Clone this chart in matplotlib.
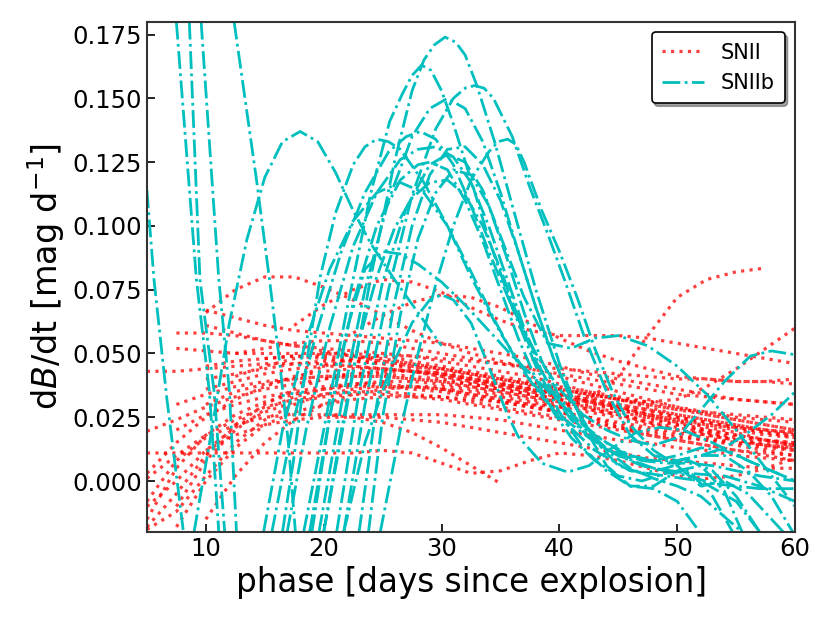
import numpy as np
import matplotlib
matplotlib.use('Agg')
import matplotlib.pyplot as plt

nan = np.nan

# common phase grid for the SNII curves (days since explosion)
phase_ii = [5, 7.5, 10, 12.5, 15, 17.5, 20, 22.5, 25, 27.5, 30, 32.5, 35, 37.5,
            40, 42.5, 45, 47.5, 50, 52.5, 55, 57.5, 60]

# SNII dB/dt curves (mag/day), nan = no data
snii = [
    [nan, nan, 0.066, 0.075, 0.080, 0.080, 0.076, 0.071, 0.065, 0.059, 0.054, 0.050, 0.047, 0.044, 0.041, 0.038, 0.035, 0.032, 0.029, 0.026, 0.024, 0.022, 0.020],
    [nan, nan, nan, nan, nan, 0.061, 0.069, 0.075, 0.079, 0.078, 0.074, 0.068, 0.063, 0.059, 0.057, 0.057, 0.057, 0.056, 0.054, 0.052, 0.050, 0.048, 0.046],
    [nan, nan, nan, nan, nan, nan, nan, 0.058, 0.065, 0.070, 0.073, 0.072, 0.068, 0.062, 0.056, 0.051, 0.047, 0.044, 0.041, 0.040, 0.039, 0.039, 0.040],
    [nan, nan, 0.067, 0.064, 0.061, 0.059, 0.058, 0.057, 0.056, 0.055, 0.054, 0.052, 0.050, 0.048, 0.045, 0.042, 0.040, 0.038, 0.036, 0.034, 0.032, 0.031, 0.030],
    [nan, nan, 0.061, 0.058, 0.055, 0.053, 0.052, 0.051, 0.050, 0.049, 0.047, 0.045, 0.043, 0.041, 0.038, 0.035, 0.032, 0.029, 0.026, 0.024, 0.022, 0.020, 0.019],
    [nan, 0.058, 0.058, 0.057, 0.055, 0.053, 0.051, 0.049, 0.047, 0.045, 0.043, 0.041, 0.039, 0.037, 0.035, 0.033, 0.030, 0.028, 0.025, 0.023, 0.021, 0.019, 0.018],
    [nan, 0.052, 0.051, 0.050, 0.050, 0.050, 0.050, 0.049, 0.048, 0.046, 0.044, 0.042, 0.040, 0.038, 0.036, 0.034, 0.032, 0.030, 0.028, 0.027, 0.026, 0.025, 0.024],
    [0.043, 0.043, 0.044, 0.045, 0.046, 0.046, 0.046, 0.045, 0.044, 0.043, 0.041, 0.039, 0.037, 0.035, 0.033, 0.031, 0.029, 0.027, 0.025, 0.023, 0.021, 0.019, 0.017],
    [nan, nan, 0.040, 0.042, 0.044, 0.046, 0.047, 0.047, 0.046, 0.045, 0.044, 0.042, 0.040, 0.038, 0.036, 0.034, 0.032, 0.030, 0.028, 0.026, 0.024, 0.022, 0.020],
    [nan, nan, 0.036, 0.039, 0.042, 0.044, 0.045, 0.045, 0.044, 0.043, 0.041, 0.039, 0.037, 0.035, 0.033, 0.031, 0.029, 0.026, 0.024, 0.021, 0.019, 0.016, 0.014],
    [0.003, 0.015, 0.025, 0.032, 0.037, 0.041, 0.043, 0.044, 0.044, 0.043, 0.042, 0.040, 0.038, 0.036, 0.034, 0.031, 0.028, 0.025, 0.022, 0.019, 0.016, 0.014, 0.012],
    [-0.015, 0.005, 0.018, 0.026, 0.031, 0.034, 0.036, 0.037, 0.037, 0.036, 0.035, 0.033, 0.031, 0.029, 0.027, 0.025, 0.023, 0.021, 0.019, 0.017, 0.015, 0.013, 0.012],
    [-0.008, 0.008, 0.017, 0.022, 0.025, 0.026, 0.026, 0.026, 0.026, 0.026, 0.026, 0.025, 0.024, 0.022, 0.020, 0.018, 0.016, 0.015, 0.013, 0.012, 0.010, 0.009, 0.008],
    [nan, -0.010, 0.008, 0.020, 0.028, 0.033, 0.036, 0.038, 0.039, 0.039, 0.038, 0.037, 0.035, 0.033, 0.031, 0.028, 0.026, 0.023, 0.021, 0.019, 0.017, 0.016, 0.015],
    [nan, -0.018, 0.000, 0.013, 0.022, 0.027, 0.030, 0.032, 0.033, 0.033, 0.033, 0.032, 0.031, 0.029, 0.027, 0.025, 0.022, 0.020, 0.018, 0.016, 0.014, 0.012, 0.010],
    [0.011, 0.011, 0.011, 0.011, 0.011, 0.011, 0.011, 0.011, 0.012, 0.011, 0.007, 0.003, 0.004, 0.008, 0.011, 0.010, 0.008, 0.005, 0.002, 0.001, 0.002, 0.005, 0.009],
    [nan, nan, nan, nan, nan, nan, 0.026, 0.025, 0.023, 0.019, 0.013, 0.006, -0.001, nan, nan, nan, nan, nan, nan, nan, nan, nan, nan],
    [nan, nan, nan, nan, nan, nan, nan, nan, nan, nan, 0.036, 0.034, 0.032, 0.030, 0.029, 0.032, 0.041, 0.057, 0.072, 0.079, 0.082, 0.0835, nan],
    [nan, nan, nan, nan, 0.048, 0.049, 0.049, 0.048, 0.047, 0.046, 0.044, 0.042, 0.040, 0.038, 0.036, 0.034, 0.032, 0.031, 0.032, 0.037, 0.044, 0.052, 0.060],
    [nan, nan, nan, nan, nan, 0.040, 0.045, 0.048, 0.049, 0.049, 0.048, 0.047, 0.046, 0.045, 0.044, 0.043, 0.042, 0.041, 0.040, 0.040, 0.039, 0.039, 0.038],
    [nan, nan, nan, 0.050, 0.052, 0.054, 0.055, 0.055, 0.054, 0.052, 0.050, 0.048, 0.046, 0.044, 0.042, 0.040, 0.038, 0.036, 0.034, 0.033, 0.032, 0.031, 0.030],
    [nan, nan, 0.030, 0.035, 0.038, 0.040, 0.041, 0.041, 0.041, 0.040, 0.039, 0.037, 0.035, 0.033, 0.031, 0.029, 0.027, 0.025, 0.023, 0.022, 0.021, 0.020, 0.019],
    [nan, 0.020, 0.026, 0.030, 0.033, 0.035, 0.037, 0.038, 0.038, 0.037, 0.036, 0.034, 0.032, 0.030, 0.027, 0.024, 0.021, 0.018, 0.016, 0.014, 0.012, 0.011, 0.010],
    [nan, nan, 0.012, 0.018, 0.022, 0.024, 0.025, 0.025, 0.025, 0.024, 0.023, 0.021, 0.019, 0.017, 0.015, 0.013, 0.011, 0.009, 0.008, 0.007, 0.006, 0.005, 0.005],
    [-0.018, -0.005, 0.010, 0.022, 0.030, 0.036, 0.040, 0.042, 0.043, 0.043, 0.042, 0.040, 0.038, 0.036, 0.034, 0.032, 0.029, 0.026, 0.023, 0.020, 0.018, 0.016, 0.014],
    [nan, nan, -0.015, 0.002, 0.015, 0.024, 0.030, 0.034, 0.036, 0.037, 0.037, 0.036, 0.034, 0.032, 0.030, 0.028, 0.026, 0.024, 0.022, 0.020, 0.018, 0.016, 0.015],
    [0.0195, 0.024, 0.029, 0.033, 0.036, 0.038, 0.040, 0.041, 0.041, 0.040, 0.039, 0.038, 0.036, 0.034, 0.032, 0.030, 0.028, 0.026, 0.024, 0.022, 0.020, 0.018, 0.017],
    [0.001, 0.010, 0.018, 0.024, 0.029, 0.032, 0.034, 0.035, 0.035, 0.034, 0.033, 0.031, 0.029, 0.027, 0.025, 0.023, 0.021, 0.019, 0.017, 0.016, 0.015, 0.014, 0.013],
    [-0.010, 0.000, 0.012, 0.021, 0.027, 0.031, 0.033, 0.034, 0.034, 0.033, 0.032, 0.030, 0.028, 0.026, 0.024, 0.022, 0.020, 0.018, 0.016, 0.014, 0.012, 0.010, 0.008],
    [nan, nan, nan, 0.041, 0.045, 0.048, 0.050, 0.050, 0.049, 0.047, 0.045, 0.043, 0.041, 0.039, 0.037, 0.035, 0.033, 0.031, 0.029, 0.027, 0.025, 0.024, 0.023],
    [-0.019, -0.012, 0.002, 0.015, 0.024, 0.030, 0.034, 0.036, 0.037, 0.037, 0.036, 0.035, 0.033, 0.031, 0.029, 0.027, 0.025, 0.022, 0.020, 0.018, 0.016, 0.014, 0.013],
    [nan, nan, 0.045, 0.047, 0.048, 0.049, 0.048, 0.047, 0.046, 0.044, 0.042, 0.040, 0.038, 0.036, 0.034, 0.032, 0.030, 0.028, 0.026, 0.024, 0.022, 0.020, 0.018],
    [nan, 0.030, 0.034, 0.037, 0.039, 0.040, 0.041, 0.042, 0.042, 0.041, 0.040, 0.038, 0.036, 0.034, 0.032, 0.029, 0.026, 0.023, 0.020, 0.018, 0.016, 0.015, 0.014],
]

# SNIIb curves: (phase, dB/dt) pairs
sniib_phase = [
    [5.0, 5.6, 6.7, 8.1],
    [7.5, 9.2, 10.3, 11.1],
    [8.6, 9.5, 10.7, 11.6],
    [9.6, 11.1, 12.0, 12.6],
    [12.4, 14.3, 15.4, 16.3, 17.0, 17.6],
    [9.0, 10.5, 12.0, 13.5, 15.0, 16.5, 18.0, 19.5, 21.0, 22.5, 24.0, 26.0, 28.0, 30.0],
    [20.0, 22.0, 24.0, 26.0, 27.5, 28.5, 29.4, 30.3, 31.2, 32.0, 33.0, 34.5, 36.0, 38.0, 40.0, 42.0, 44.0, 46.0, 48.0, 50.0, 52.0, 54.0, 55.5],
    [18.3, 20.0, 22.0, 24.0, 25.6, 26.7, 27.5, 28.3, 29.1, 30.0, 31.0, 32.5, 34.0, 36.0, 38.0, 40.0, 42.0, 44.0, 46.0, 48.0, 50.0, 51.9],
    [21.7, 23.5, 25.5, 27.5, 29.5, 31.0, 32.0, 32.8, 33.6, 34.4, 36.0, 37.5, 39.0, 40.5, 42.0, 44.0, 46.0, 48.0, 50.0, 52.0, 54.0, 56.0, 58.0, 59.8],
    [19.6, 21.5, 23.5, 25.5, 27.5, 29.0, 30.5, 32.0, 33.5, 35.0, 36.5, 38.0, 39.5, 41.0, 43.0, 45.0, 47.0, 49.0, 51.0, 53.0, 55.0, 57.0],
    [24.8, 26.5, 28.0, 29.5, 31.0, 32.5, 34.0, 34.8, 35.6, 36.3, 37.0, 38.5, 40.0, 41.5, 43.0, 44.5, 46.0, 48.0, 50.0, 52.0, 54.0, 56.0, 58.0, 59.0],
    [15.6, 17.5, 19.5, 21.5, 23.5, 25.5, 27.0, 28.2, 29.5, 31.0, 32.5, 34.0, 36.0, 38.0, 40.0, 42.0, 44.0, 46.0, 48.0, 50.0, 52.2, 54.0, 56.2, 58.0, 60.0],
    [16.5, 17.5, 18.5, 19.7, 21.0, 22.5, 23.5, 24.5, 25.5, 26.5, 28.5, 30.5, 32.5, 35.0, 37.5, 40.0, 43.0, 46.0, 49.0, 52.0, 55.0, 57.0],
    [16.9, 18.5, 20.5, 22.5, 24.5, 26.5, 28.0, 29.5, 31.0, 32.5, 34.0, 35.5, 37.0, 38.5, 40.0, 42.0, 44.0, 46.0, 48.0, 50.0, 52.0, 54.0, 56.0, 58.0, 60.0],
    [21.1, 23.0, 25.0, 27.0, 29.0, 30.5, 32.0, 33.5, 35.0, 37.0, 39.0, 41.0, 43.0, 45.0, 47.5, 50.0, 52.5, 55.0, 57.5, 60.0],
    [18.8, 20.5, 22.5, 24.5, 26.5, 28.0, 29.0, 30.5, 32.0, 33.5, 35.0, 36.5, 38.0, 39.5, 41.0, 43.0, 45.0, 47.0, 49.0, 51.0, 53.0, 54.7],
    [23.8, 25.0, 26.5, 28.0, 29.5, 31.0, 32.5, 34.0, 35.5, 37.0, 38.5, 40.0, 41.5, 43.0, 45.0, 47.0, 49.0, 51.0, 53.0, 55.0, 57.0, 60.0],
    [20.0, 21.5, 23.0, 24.5, 26.0, 27.5, 29.0, 30.5, 32.0, 33.5, 35.0, 36.5, 38.0, 39.5, 41.0, 43.0, 45.0, 47.0, 49.0, 51.0, 53.0, 55.0, 57.0, 60.0],
    [19.0, 20.5, 22.0, 23.5, 25.0, 26.5, 28.0, 30.0, 32.0, 34.0, 36.0, 38.0, 40.0, 42.0, 44.0, 46.0, 48.0, 50.0, 52.0, 54.0, 56.0, 58.0, 60.0],
    [21.7, 23.5, 25.5, 27.5, 29.0, 30.0, 31.0, 32.5, 34.0, 35.5, 36.5, 38.5, 40.7, 42.5, 44.5, 46.5, 48.5, 50.5, 53.0, 56.0, 60.0],
    [14.9, 16.5, 18.5, 20.5, 22.5, 24.5, 26.5, 28.5, 30.5, 32.5, 34.5, 36.5, 38.5, 40.5, 42.5, 45.0, 48.0, 51.0, 54.0, 57.0, 60.0],
    [23.0, 24.5, 26.0, 27.5, 29.0, 30.5, 32.0, 33.5, 35.0, 36.5, 38.0, 39.5, 41.0, 42.5, 44.0, 46.0, 48.0, 50.0, 52.0, 54.0, 55.5],
]
sniib_rate = [
    [0.114, 0.079, 0.032, -0.02],
    [0.18, 0.079, 0.035, -0.02],
    [0.18, 0.079, 0.035, -0.02],
    [0.18, 0.079, 0.035, -0.02],
    [0.18, 0.118, 0.079, 0.045, 0.015, -0.02],
    [-0.02, 0.02, 0.062, 0.095, 0.119, 0.133, 0.137, 0.133, 0.121, 0.106, 0.093, 0.079, 0.066, 0.053],
    [-0.02, 0.03, 0.08, 0.125, 0.153, 0.165, 0.171, 0.174, 0.172, 0.167, 0.155, 0.133, 0.108, 0.075, 0.046, 0.022, 0.006, -0.002, -0.002, 0.004, 0.006, -0.004, -0.02],
    [-0.02, 0.02, 0.068, 0.113, 0.141, 0.152, 0.159, 0.163, 0.161, 0.153, 0.140, 0.118, 0.095, 0.068, 0.045, 0.027, 0.013, 0.004, -0.002, -0.003, -0.008, -0.02],
    [-0.02, 0.03, 0.075, 0.112, 0.138, 0.150, 0.154, 0.155, 0.154, 0.150, 0.135, 0.115, 0.097, 0.078, 0.058, 0.035, 0.018, 0.010, 0.008, 0.010, 0.010, 0.004, -0.006, -0.02],
    [-0.02, 0.03, 0.075, 0.110, 0.135, 0.146, 0.150, 0.146, 0.133, 0.113, 0.090, 0.068, 0.048, 0.032, 0.016, 0.006, 0.003, 0.005, 0.008, 0.004, -0.006, -0.02],
    [-0.02, 0.02, 0.05, 0.077, 0.100, 0.118, 0.129, 0.133, 0.134, 0.132, 0.125, 0.106, 0.090, 0.072, 0.052, 0.035, 0.022, 0.012, 0.006, -0.002, 0.0, -0.005, -0.015, -0.02],
    [-0.02, 0.025, 0.06, 0.09, 0.113, 0.129, 0.135, 0.137, 0.134, 0.124, 0.108, 0.090, 0.068, 0.050, 0.036, 0.026, 0.020, 0.016, 0.014, 0.017, 0.029, 0.039, 0.049, 0.051, 0.0495],
    [-0.02, 0.01, 0.045, 0.08, 0.105, 0.124, 0.131, 0.134, 0.133, 0.130, 0.117, 0.100, 0.080, 0.058, 0.040, 0.025, 0.012, 0.004, 0.002, 0.0, -0.008, -0.02],
    [-0.02, 0.02, 0.06, 0.092, 0.113, 0.126, 0.130, 0.131, 0.127, 0.117, 0.100, 0.080, 0.060, 0.043, 0.031, 0.020, 0.013, 0.009, 0.008, 0.008, 0.010, 0.013, 0.019, 0.026, 0.035],
    [-0.02, 0.035, 0.078, 0.107, 0.124, 0.128, 0.125, 0.114, 0.096, 0.072, 0.054, 0.052, 0.056, 0.057, 0.053, 0.045, 0.034, 0.020, 0.005, -0.010],
    [-0.02, 0.025, 0.07, 0.10, 0.118, 0.124, 0.125, 0.122, 0.110, 0.094, 0.075, 0.056, 0.040, 0.027, 0.017, 0.008, 0.002, 0.0, 0.003, 0.004, -0.006, -0.02],
    [-0.02, 0.025, 0.065, 0.095, 0.113, 0.122, 0.120, 0.108, 0.088, 0.066, 0.047, 0.033, 0.024, 0.018, 0.012, 0.008, 0.007, 0.007, 0.006, 0.004, 0.002, 0.0],
    [-0.02, 0.02, 0.055, 0.08, 0.099, 0.111, 0.117, 0.118, 0.112, 0.100, 0.083, 0.064, 0.047, 0.034, 0.024, 0.015, 0.010, 0.006, 0.004, 0.002, -0.001, -0.002, -0.003, -0.003],
    [-0.02, 0.025, 0.06, 0.083, 0.090, 0.089, 0.085, 0.078, 0.069, 0.059, 0.049, 0.040, 0.031, 0.022, 0.015, 0.010, 0.008, 0.010, 0.013, 0.012, 0.008, 0.004, 0.0],
    [-0.02, 0.015, 0.042, 0.062, 0.071, 0.073, 0.071, 0.062, 0.045, 0.027, 0.0175, 0.007, 0.0035, 0.006, 0.013, 0.019, 0.021, 0.020, 0.015, 0.008, 0.0],
    [-0.02, 0.02, 0.055, 0.083, 0.102, 0.113, 0.117, 0.113, 0.100, 0.082, 0.063, 0.046, 0.033, 0.024, 0.017, 0.010, 0.005, 0.003, 0.002, -0.002, -0.008],
    [-0.02, 0.03, 0.07, 0.10, 0.120, 0.130, 0.131, 0.124, 0.110, 0.090, 0.068, 0.048, 0.032, 0.020, 0.012, 0.005, 0.001, -0.002, -0.006, -0.014, -0.02],
]

fig = plt.figure(figsize=(8.3, 6.23), dpi=100)
ax = fig.add_axes([0.177, 0.146, 0.781, 0.819])

for i, y in enumerate(snii):
    ax.plot(phase_ii, y, ':', color='r', lw=2.3, alpha=0.75,
            label='SNII' if i == 0 else None)
for i in range(len(sniib_phase)):
    ax.plot(sniib_phase[i], sniib_rate[i], '-.', color='c', lw=2,
            label='SNIIb' if i == 0 else None)

ax.set_xlim(5, 60)
ax.set_ylim(-0.02, 0.18)
ax.set_yticks([0.0, 0.025, 0.05, 0.075, 0.1, 0.125, 0.15, 0.175])
ax.set_xticks([10, 20, 30, 40, 50, 60])
ax.tick_params(direction='in', length=6, width=1.2, labelsize=17.5)
for s in ax.spines.values():
    s.set_linewidth(1.5)
    s.set_color('#333333')
ax.set_xlabel('phase [days since explosion]', fontsize=23.5)
ax.set_ylabel(r'd$B$/dt [mag d$^{-1}$]', fontsize=24)
leg = ax.legend(loc='upper right', fontsize=15, shadow=True, fancybox=True,
                framealpha=1, labelspacing=0.5, borderpad=0.5)
leg.get_frame().set_edgecolor('black')
leg.get_frame().set_linewidth(1.2)

fig.savefig('out.png', dpi=100)
